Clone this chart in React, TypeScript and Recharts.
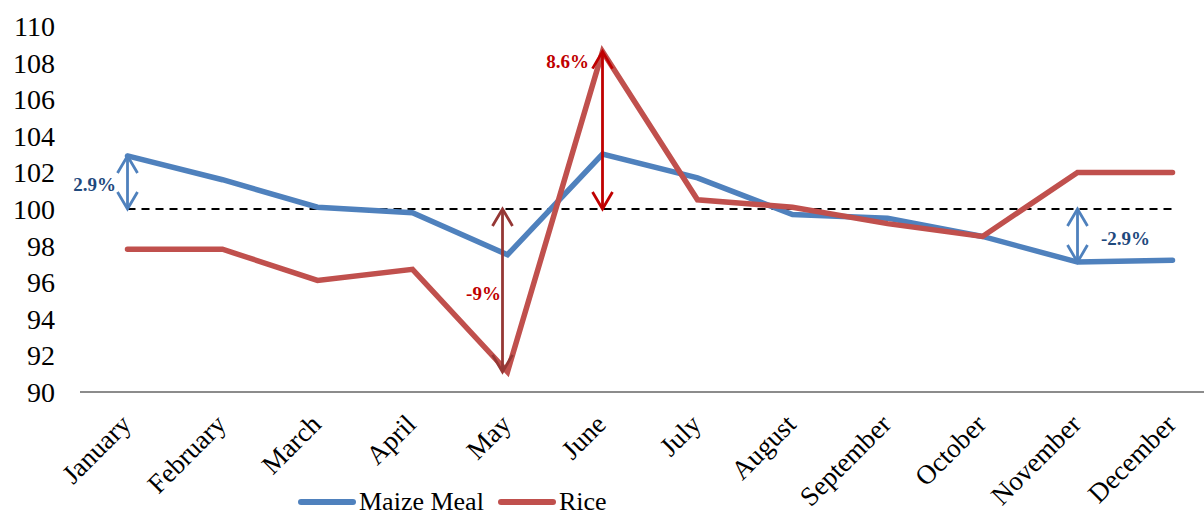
import React from 'react';
import { LineChart, Line, XAxis, YAxis, ReferenceLine, Legend } from 'recharts';

// Monthly price index, base = 100
const months = ['January', 'February', 'March', 'April', 'May', 'June', 'July', 'August', 'September', 'October', 'November', 'December'];
const maizeMeal = [102.9, 101.6, 100.1, 99.8, 97.5, 103.0, 101.7, 99.7, 99.5, 98.5, 97.1, 97.2];
const rice = [97.8, 97.8, 96.1, 96.7, 91.1, 108.6, 100.5, 100.1, 99.2, 98.5, 102.0, 102.0];
const yTicks = [90, 92, 94, 96, 98, 100, 102, 104, 106, 108, 110];
const baseLevel = 100;

// Change annotations: month, series measured against the base, label
const changeMonths = ['January', 'May', 'June', 'November'];
const changeLabels = ['2.9%', '-9%', '8.6%', '-2.9%'];
const changeSeries = ['maize', 'rice', 'rice', 'maize'];

const arrowStyles = [
  { color: '#4F81BD', text: '#1F497D', dx: -33, dy: 2, shift: 0 },
  { color: '#953735', text: '#C00000', dx: -19, dy: 3, shift: -5 },
  { color: '#C00000', text: '#C00000', dx: -35, dy: 0, shift: 0, labelAtTop: true },
  { color: '#4F81BD', text: '#1F497D', dx: 48, dy: 3, shift: 0 },
];

const data = months.map((m, i) => ({ month: m, maize: maizeMeal[i], rice: rice[i] }));

const FONT = '"Liberation Serif", "DejaVu Serif", serif';

const MonthTick = (props: any) => {
  const { x, y, payload } = props;
  return (
    <g transform={`translate(${x + 5},${y + 26})`}>
      <text x={0} y={0} textAnchor="end" transform="rotate(-45)" fontSize={27} fontFamily={FONT} fill="#000">
        {payload.value}
      </text>
    </g>
  );
};

const makeArrow = (idx: number) => (p: any) => {
  const st = arrowStyles[idx];
  const x = p.x1 + st.shift;
  const top = Math.min(p.y1, p.y2);
  const bot = Math.max(p.y1, p.y2);
  const L = 17;
  const W = 10;
  const midY = st.labelAtTop ? top + 10 : (top + bot) / 2;
  return (
    <g>
      <line x1={x} y1={top} x2={x} y2={bot} stroke={st.color} strokeWidth={2.8} />
      <polyline points={`${x - W},${top + L} ${x},${top} ${x + W},${top + L}`} fill="none" stroke={st.color} strokeWidth={2.8} />
      <polyline points={`${x - W},${bot - L} ${x},${bot} ${x + W},${bot - L}`} fill="none" stroke={st.color} strokeWidth={2.8} />
      <text x={x + st.dx} y={midY + st.dy} textAnchor="middle" dominantBaseline="central" fontSize={19} fontWeight="bold" fontFamily={FONT} fill={st.text}>
        {changeLabels[idx]}
      </text>
    </g>
  );
};

const LegendContent = () => {
  const items = [
    { name: 'Maize Meal', color: '#4F81BD' },
    { name: 'Rice', color: '#C0504D' },
  ];
  return (
    <div style={{ display: 'flex', alignItems: 'center', fontFamily: FONT, fontSize: 26, color: '#000' }}>
      {items.map((it, i) => (
        <div key={it.name} style={{ display: 'flex', alignItems: 'center', marginRight: i === 0 ? 14 : 0 }}>
          <svg width={58} height={12}>
            <line x1={3} y1={6} x2={55} y2={6} stroke={it.color} strokeWidth={6} strokeLinecap="round" />
          </svg>
          <span style={{ marginLeft: 3, lineHeight: '26px' }}>{it.name}</span>
        </div>
      ))}
    </div>
  );
};

export default function App() {
  return (
    <div style={{ position: 'absolute', left: 0, top: 0, width: 1204, height: 516, overflow: 'hidden', background: '#fff' }}>
      <LineChart width={1240} height={516} data={data} margin={{ top: 26, right: 20, bottom: 0, left: 0 }}>
        <XAxis
          dataKey="month"
          height={124}
          interval={0}
          padding={{ left: 47.5, right: 47.5 }}
          tickLine={false}
          axisLine={{ stroke: '#8C8C8C', strokeWidth: 2 }}
          tick={<MonthTick />}
        />
        <YAxis
          domain={[90, 110]}
          ticks={yTicks}
          width={80}
          axisLine={false}
          tickLine={false}
          tickMargin={19}
          interval={0}
          tick={{ fontSize: 28, fontFamily: FONT, fill: '#000' }}
        />
        <ReferenceLine
          segment={[{ x: months[0], y: baseLevel }, { x: months[months.length - 1], y: baseLevel }]}
          stroke="#000"
          strokeWidth={1.8}
          strokeDasharray="8 6"
        />
        <Line dataKey="maize" name="Maize Meal" stroke="#4F81BD" strokeWidth={5.5} dot={false} strokeLinecap="round" isAnimationActive={false} />
        <Line dataKey="rice" name="Rice" stroke="#C0504D" strokeWidth={5.5} dot={false} strokeLinecap="round" isAnimationActive={false} />
        {changeMonths.map((m, i) => {
          const idx = months.indexOf(m);
          const level = changeSeries[i] === 'maize' ? maizeMeal[idx] : rice[idx];
          return (
            <ReferenceLine
              key={m}
              segment={[{ x: m, y: baseLevel }, { x: m, y: level }]}
              shape={makeArrow(i)}
            />
          );
        })}
        <Legend
          verticalAlign="middle"
          align="center"
          content={<LegendContent />}
          wrapperStyle={{ top: 489, left: 298, width: 400 }}
        />
      </LineChart>
    </div>
  );
}
